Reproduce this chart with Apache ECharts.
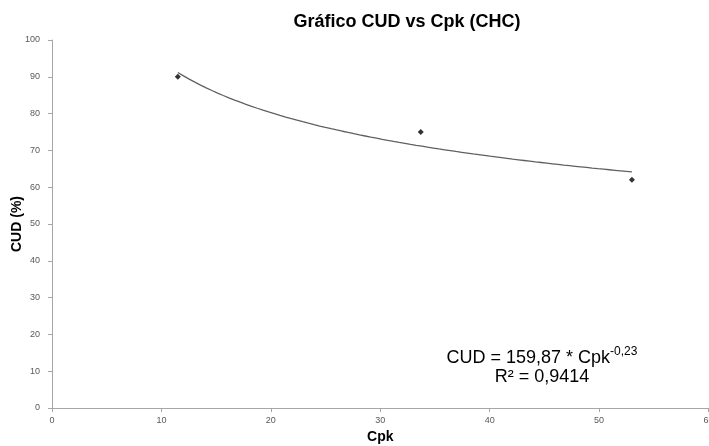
<!DOCTYPE html>
<html>
<head>
<meta charset="utf-8">
<script src="https://cdn.jsdelivr.net/npm/echarts@6/dist/echarts.min.js"></script>
<style>
  html, body { margin: 0; padding: 0; background: #ffffff; }
  #chart { width: 709px; height: 446px; }
</style>
</head>
<body>
<div id="chart"></div>
<script>
// Measured points: Cpk vs CUD (%)
const cpkValues = [11.5, 33.7, 53];
const cudValues = [90, 75, 62];

// Power trendline coefficients: CUD = a * Cpk^b
const trendA = 159.87;
const trendB = -0.23;
const trendR2 = '0,9414';

// Axis ticks
const xTicks = [0, 10, 20, 30, 40, 50, 60];
const yTicks = [0, 10, 20, 30, 40, 50, 60, 70, 80, 90, 100];

const points = cpkValues.map((x, i) => [x, cudValues[i]]);

// Trendline sampled across the measured Cpk range
const xMin = Math.min(...cpkValues);
const xMax = Math.max(...cpkValues);
const trendPoints = [];
const steps = 80;
for (let i = 0; i <= steps; i++) {
  const x = xMin + (xMax - xMin) * i / steps;
  trendPoints.push([x, trendA * Math.pow(x, trendB)]);
}

const font = '"Liberation Sans", Arial, sans-serif';
const axisGray = '#a6a6a6';
const labelGray = '#595959';

const chart = echarts.init(document.getElementById('chart'), null, { renderer: 'canvas' });
chart.setOption({
  backgroundColor: '#ffffff',
  animation: false,
  title: {
    text: 'Gráfico CUD vs Cpk (CHC)',
    left: 402,
    top: 8,
    textAlign: 'center',
    textStyle: { fontFamily: font, fontSize: 18, fontWeight: 'bold', color: '#000000' }
  },
  grid: { left: 52, right: 0.5, top: 40, bottom: 38, containLabel: false, outerBoundsMode: 'none' },
  xAxis: {
    type: 'value',
    min: xTicks[0],
    max: xTicks[xTicks.length - 1],
    interval: 10,
    name: 'Cpk',
    nameLocation: 'middle',
    nameGap: 22,
    nameMoveOverlap: false,
    nameTextStyle: { fontFamily: font, fontSize: 14, fontWeight: 'bold', color: '#000000' },
    axisLine: { show: true, lineStyle: { color: axisGray, width: 1 } },
    axisTick: { show: true, length: 4, lineStyle: { color: axisGray } },
    axisLabel: { fontFamily: font, fontSize: 9, color: labelGray, margin: 8, showMaxLabel: true, hideOverlap: false },
    splitLine: { show: false }
  },
  yAxis: {
    type: 'value',
    min: yTicks[0],
    max: yTicks[yTicks.length - 1],
    interval: 10,
    name: 'CUD (%)',
    nameLocation: 'middle',
    nameGap: 28,
    nameMoveOverlap: false,
    nameTextStyle: { fontFamily: font, fontSize: 14, fontWeight: 'bold', color: '#000000' },
    axisLine: { show: true, lineStyle: { color: axisGray, width: 1 } },
    axisTick: { show: true, length: 4, lineStyle: { color: axisGray } },
    axisLabel: { fontFamily: font, fontSize: 9, color: labelGray, margin: 12 },
    splitLine: { show: false }
  },
  series: [
    {
      type: 'line',
      data: trendPoints,
      showSymbol: false,
      smooth: false,
      lineStyle: { color: '#606060', width: 1.3 },
      silent: true,
      z: 2
    },
    {
      type: 'scatter',
      data: points,
      symbol: 'diamond',
      symbolSize: 6,
      itemStyle: { color: '#000000' },
      z: 3
    }
  ],
  graphic: [
    {
      type: 'text',
      x: 542,
      y: 346,
      style: {
        text: '{m|CUD = ' + trendA.toFixed(2).replace('.', ',') + ' * Cpk}{s|' + String(trendB).replace('.', ',') + '}',
        align: 'center',
        fill: '#000000',
        rich: {
          m: { fontFamily: font, fontSize: 18, color: '#000000', verticalAlign: 'bottom', lineHeight: 21 },
          s: { fontFamily: font, fontSize: 12, color: '#000000', verticalAlign: 'top', lineHeight: 21, padding: [0, 0, 8, 0] }
        }
      }
    },
    {
      type: 'text',
      x: 542,
      y: 368,
      style: {
        text: 'R² = ' + trendR2,
        align: 'center',
        fill: '#000000',
        fontFamily: font,
        fontSize: 18
      }
    }
  ]
});
</script>
</body>
</html>
